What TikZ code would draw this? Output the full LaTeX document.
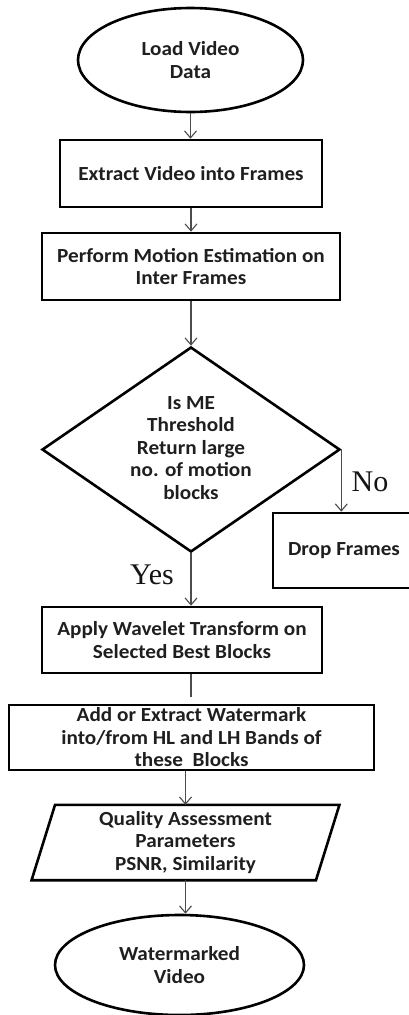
\documentclass[tikz,border=0pt]{standalone}
\usepackage{fontspec}
\newfontfamily\calfont{Carlito}[FakeStretch=1.06]
\newfontfamily\tnrfont{Liberation Serif}
\usetikzlibrary{shapes.geometric,arrows.meta}
\tikzset{
  txt/.style={align=center, text=black!88, font=\calfont\bfseries\fontsize{20}{22.5}\selectfont, inner sep=0pt},
  stepbox/.style={txt, draw, rectangle, line width=2.6pt},
  term/.style={txt, draw, ellipse, line width=2.6pt},
  decide/.style={draw, diamond, line width=2.6pt, inner sep=0pt},
  arr/.style={draw=black!70, line width=1.1pt, -{Straight Barb[length=7pt,width=12pt]}},
  plain/.style={draw=black!70, line width=1.1pt},
  lbl/.style={font=\tnrfont\fontsize{30}{32}\selectfont, text=black!92, inner sep=0pt}
}
\begin{document}
\begin{tikzpicture}[x=1pt,y=-1pt]
\useasboundingbox[fill=white] (0,0) rectangle (409,1015);
\node[term, minimum width=225pt, minimum height=104pt] (load) at (190.5,60) {Load Video\\Data};
\node[stepbox, minimum width=262pt, minimum height=67pt] (extract) at (191,173.5) {Extract Video into Frames};
\node[stepbox, minimum width=298pt, minimum height=67pt] (motion) at (191,266.5) {Perform Motion Estimation on\\Inter Frames};
\node[decide, minimum width=298pt, minimum height=205pt] (dec) at (191,449.5) {};
\node[txt] (dectxt) at (191,448) {Is ME\\Threshold\\Return large\\no. of motion\\blocks};
\node[stepbox, minimum width=142pt, minimum height=75pt] (drop) at (344,550.5) {Drop Frames};
\node[stepbox, minimum width=280pt, minimum height=66pt] (wavelet) at (182,640) {Apply Wavelet Transform on\\Selected Best Blocks};
\node[stepbox, minimum width=365pt, minimum height=65pt] (water) at (191.5,737.5) {Add or Extract Watermark\\into/from HL and LH Bands of\\these\ \ Blocks};
\node[txt, minimum width=284pt, minimum height=75pt] (qual) at (185.5,842.5) {Quality Assessment\\Parameters\\PSNR, Similarity};
\draw[line width=2.6pt, line join=miter]
  ([xshift=11.75pt]qual.north west) -- ([xshift=11.75pt]qual.north east)
  -- ([xshift=-11.75pt]qual.south east) -- ([xshift=-11.75pt]qual.south west) -- cycle;
\node[term, minimum width=249pt, minimum height=100pt] (out) at (179.5,965) {Watermarked\\Video};
\coordinate (gapend) at (191,697);
\node[lbl] (no) at (370,482) {No};
\node[lbl] (yes) at (152,575) {Yes};
\draw[arr] (load.south) -- (load.south |- extract.north);
\draw[arr] (extract.south) -- (extract.south |- motion.north);
\draw[arr] (motion.south) -- (motion.south |- dec.north);
\draw[arr] (dec.east) -- (dec.east |- drop.north);
\draw[arr] (dec.south) -- (dec.south |- wavelet.north);
\draw[plain] (wavelet.south -| gapend) -- (gapend);
\draw[arr] (qual.north |- water.south) -- (qual.north);
\draw[arr] (qual.south) -- (qual.south |- out.north);
\end{tikzpicture}
\end{document}
